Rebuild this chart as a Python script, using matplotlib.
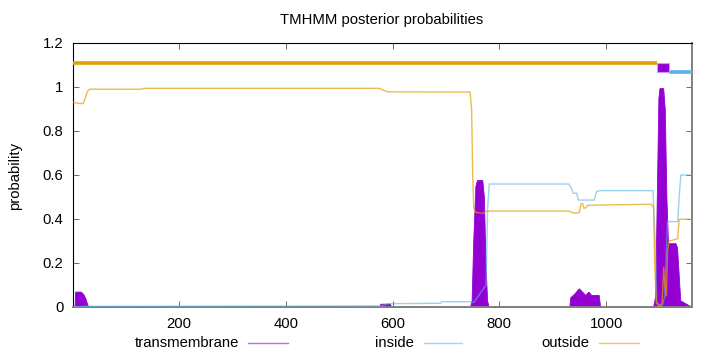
import matplotlib
matplotlib.use("Agg")
import matplotlib.pyplot as plt
from matplotlib.lines import Line2D
from matplotlib.ticker import FuncFormatter

plt.rcParams['font.family'] = ['Liberation Sans', 'DejaVu Sans']

# ---- data ----
seq_len = 1161

tm_x = [1, 4, 5, 15, 20, 24, 28, 30,
        118, 120, 140, 142,
        575, 577, 595, 597,
        745, 748, 751, 755, 758, 768, 771, 774, 777, 780,
        931, 933, 940, 949, 955, 961, 967, 972, 986, 989,
        1088, 1092, 1095, 1098, 1100, 1107, 1110, 1113, 1116, 1120, 1130, 1133, 1136, 1139, 1161]
tm_y = [0, 0, 0.07, 0.07, 0.06, 0.04, 0.01, 0,
        0, 0.004, 0.004, 0,
        0, 0.015, 0.015, 0,
        0, 0.03, 0.3, 0.55, 0.577, 0.577, 0.5, 0.2, 0.03, 0,
        0, 0.045, 0.06, 0.085, 0.07, 0.055, 0.07, 0.055, 0.055, 0,
        0, 0.05, 0.5, 0.95, 0.995, 0.995, 0.9, 0.5, 0.29, 0.29, 0.29, 0.27, 0.15, 0.03, 0]

inside_x = [1, 30, 580, 590, 690, 692, 748, 752, 775, 778, 781, 930, 935, 938, 945, 948,
            978, 982, 989, 1088, 1092, 1095, 1105, 1110, 1115, 1134, 1137, 1140, 1161]
inside_y = [0.0, 0.003, 0.005, 0.015, 0.017, 0.024, 0.024, 0.02, 0.1, 0.45, 0.559, 0.559, 0.54, 0.517, 0.517, 0.486,
            0.486, 0.525, 0.529, 0.529, 0.3, 0.02, 0.0, 0.05, 0.388, 0.388, 0.5, 0.6, 0.6]

outside_x = [1, 12, 20, 24, 28, 32, 130, 133, 575, 590, 745, 748, 750, 752, 756, 770, 776,
             930, 936, 942, 950, 953, 956, 958, 962, 965, 1000, 1085, 1089, 1091, 1094, 1100,
             1105, 1108, 1110, 1113, 1115, 1118, 1134, 1137, 1161]
outside_y = [0.93, 0.925, 0.925, 0.95, 0.98, 0.99, 0.99, 0.994, 0.994, 0.978, 0.977, 0.9, 0.6, 0.45, 0.43, 0.426, 0.436,
             0.436, 0.43, 0.426, 0.43, 0.47, 0.47, 0.45, 0.45, 0.462, 0.464, 0.467, 0.45, 0.2, 0.02, 0.0,
             0.02, 0.18, 0.1, 0.05, 0.25, 0.3, 0.31, 0.399, 0.399]

# predicted topology (top bar)
topo_outside = (1, 1095)
topo_tm = (1095, 1117)
topo_inside = (1117, 1161)

x_ticks = [200, 400, 600, 800, 1000]
y_ticks = [0, 0.2, 0.4, 0.6, 0.8, 1.0, 1.2]

FS = 10.7

# ---- figure ----
fig = plt.figure(figsize=(7.2, 3.52), dpi=100)
ax = fig.add_axes([73/720, 1 - 307/352, (692-73)/720, (307-43)/352])

purple = '#9400d3'
blue = '#56b4e9'
orange = '#e69f00'

ax.fill_between(tm_x, 0, tm_y, color=purple, lw=0.6, zorder=2)
ax.plot(inside_x, inside_y, color=blue, lw=1.0, alpha=0.6, zorder=3)
ax.plot(outside_x, outside_y, color=orange, lw=1.0, alpha=0.7, zorder=3)

# topology bar
ax.plot(topo_outside, [1.107, 1.107], color=orange, lw=2.6, solid_capstyle='butt', zorder=4)
ax.plot(topo_inside, [1.068, 1.068], color=blue, lw=2.6, solid_capstyle='butt', zorder=4)
ax.fill_between(topo_tm, 1.066, 1.109, color=purple, edgecolor='#d59af0', lw=0.8, zorder=5)

ax.set_xlim(1, seq_len)
ax.set_ylim(0, 1.2)
ax.set_xticks(x_ticks)
ax.set_yticks(y_ticks)
ax.yaxis.set_major_formatter(FuncFormatter(lambda v, p: f"{v:g}"))
ax.tick_params(direction='in', length=4, width=0.6, labelsize=FS, top=True, right=True,
               color='#555555', pad=7)
for lbl in ax.get_xticklabels() + ax.get_yticklabels():
    lbl.set_color('black')
ax.spines['left'].set_color('black')
ax.spines['top'].set_color('black')
ax.spines['bottom'].set_color('#808080')
ax.spines['right'].set_color('#808080')
ax.spines['left'].set_linewidth(0.8)
ax.spines['top'].set_linewidth(0.8)
ax.spines['bottom'].set_linewidth(1.4)
ax.spines['right'].set_linewidth(1.4)

fig.text(382/720, 1 - 20/352, "TMHMM posterior probabilities", ha='center', va='center', fontsize=FS)
fig.text(15/720, 1 - 176/352, "probability", rotation=90, ha='center', va='center', fontsize=FS)

# legend drawn at bottom
legend_items = [("transmembrane", '#c46ae8', 239, 248, 288),
                ("inside", '#9dd5f2', 414, 424, 462),
                ("outside", '#f4c66a', 589, 599, 639)]
ly = 1 - 343/352
for name, col, tx, l0, l1 in legend_items:
    fig.text(tx/720, ly, name, ha='right', va='center', fontsize=FS)
    fig.add_artist(Line2D([l0/720, l1/720], [ly, ly], color=col, lw=1.0, transform=fig.transFigure))

fig.savefig("out.png", dpi=100)
